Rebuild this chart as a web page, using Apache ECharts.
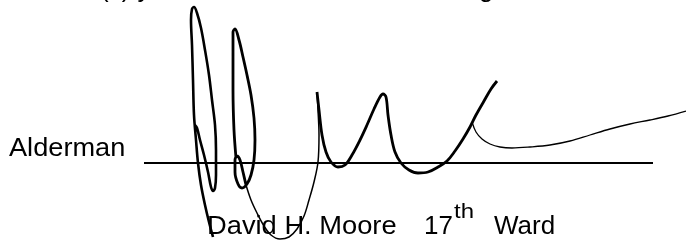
<!DOCTYPE html>
<html lang="en">
<head>
  <meta charset="UTF-8">
  <title>Alderman signature</title>
  <style>
    *{
      margin: 0;
      padding: 0;
    }
    body{
      background: #ffffff;
    }
    #sig{
      width: 686px;
      height: 244px;
    }
  </style>
</head>
<body>
<div id="sig"></div>

<script type="text/javascript" src="https://cdn.jsdelivr.net/npm/echarts@6/dist/echarts.min.js"></script>
<script>
  // page coordinates, x to the right, y downwards
  var ruleLine = [[144, 163], [653, 163]];

  // first loop with the long leg down to the printed name
  var strokeLoop1 = [
    [213, 237], [209, 222], [205, 205], [201, 185], [198, 163], [196, 140], [194, 115],
    [193, 80], [192, 45], [191, 20], [192, 9], [194, 7], [197, 13], [201, 28], [205, 50],
    [209, 75], [212, 100], [215, 125], [216, 150], [216, 175], [215, 188], [213, 191],
    [211, 187], [208, 172], [204, 155], [200, 140], [197, 128], [195, 125]
  ];
  // second loop
  var strokeLoop2 = [
    [236, 158], [234, 130], [233, 90], [233, 50], [233, 32], [235, 29], [239, 40], [243, 57],
    [247, 75], [251, 95], [254, 118], [255, 140], [254, 160], [251, 175], [247, 184],
    [242, 188], [238, 184], [235, 172], [235, 160], [237, 156], [240, 160], [243, 172], [246, 185]
  ];
  // thin U under the name
  var strokeSwoop = [
    [246, 185], [251, 200], [257, 213], [264, 226], [271, 235], [280, 239], [289, 237],
    [297, 229], [304, 216], [309, 200], [314, 182], [318, 162], [319, 135], [318, 110], [317, 92]
  ];
  // the "M" humps
  var strokeHumps = [
    [317, 92], [319, 110], [322, 135], [326, 152], [331, 162], [338, 167], [345, 165],
    [352, 155], [360, 140], [367, 125], [374, 109], [380, 97], [383, 94], [386, 97],
    [388, 115], [391, 135], [395, 152], [401, 163], [409, 170], [418, 173], [428, 172],
    [438, 167], [447, 161], [455, 151], [463, 139], [470, 127], [476, 115], [484, 101],
    [491, 89], [497, 81]
  ];
  // long tail to the right edge
  var strokeTail = [
    [472, 122], [476, 132], [482, 139], [490, 144], [500, 147], [512, 148], [530, 147],
    [550, 145], [570, 141], [590, 135], [610, 129], [630, 124], [650, 120], [668, 116], [686, 111]
  ];

  var labelLeft = 'Alderman';
  var nameText = 'David H. Moore';
  var wardNumber = '17';
  var wardSuffix = 'th';
  var wardWord = 'Ward';

  var font = '26px "Liberation Sans", Arial, sans-serif';

  function ink(data, width) {
    return {
      type: 'line',
      data: data,
      symbol: 'none',
      smooth: 0.35,
      lineStyle: { color: '#000000', width: width },
      silent: true
    };
  }

  function words(text, x, y, f, sx) {
    return {
      type: 'text',
      x: x,
      y: y,
      scaleX: sx || 1,
      style: {
        text: text,
        font: f || font,
        fill: '#000000',
        verticalAlign: 'middle'
      }
    };
  }

  var myChart = echarts.init(document.getElementById('sig'));
  var option = {
    animation: false,
    backgroundColor: '#ffffff',
    grid: { left: 0, right: 0, top: 0, bottom: 0 },
    xAxis: { type: 'value', min: 0, max: 686, show: false },
    yAxis: { type: 'value', min: 0, max: 244, inverse: true, show: false },
    series: [
      ink(ruleLine, 2),
      ink(strokeLoop1, 2.6),
      ink(strokeLoop2, 2.8),
      ink(strokeSwoop, 1.5),
      ink(strokeHumps, 2.8),
      ink(strokeTail, 1.3)
    ],
    graphic: [
      // top line of the page, only descenders are left in view
      words('(x) y', 100, -10.5),
      words('g', 479, -10.5),
      words(labelLeft, 9, 149, font, 1.045),
      words(nameText, 207, 226.5, font, 1.05),
      words(wardNumber, 424, 226.5),
      words(wardSuffix, 454, 212, '20px "Liberation Sans", Arial, sans-serif', 1.2),
      words(wardWord, 494, 226.5)
    ]
  };
  myChart.setOption(option);
</script>
</body>
</html>
